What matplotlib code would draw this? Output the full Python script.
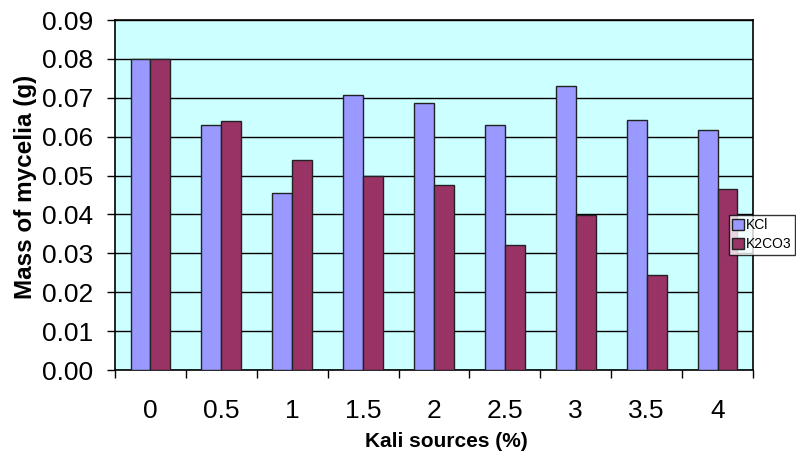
import numpy as np
import matplotlib
matplotlib.use("Agg")
from matplotlib import pyplot as plt
from matplotlib.ticker import FixedLocator

plt.rcParams['font.family'] = ['Liberation Sans', 'DejaVu Sans']

# potassium source concentration (%)
doses = ['0', '0.5', '1', '1.5', '2', '2.5', '3', '3.5', '4']
kcl = [0.080, 0.063, 0.0455, 0.0708, 0.0687, 0.063, 0.073, 0.0643, 0.0617]
k2co3 = [0.080, 0.064, 0.054, 0.050, 0.0476, 0.0321, 0.0398, 0.0244, 0.0465]

fig = plt.figure(figsize=(7.96, 4.57), dpi=100)
ax = fig.add_axes([115 / 796, 1 - 370 / 457, 638 / 796, 350 / 457])
ax.set_facecolor('#CCFFFF')

x = np.arange(len(doses))
w = 0.28
ax.bar(x - w / 2, kcl, w, color='#9999FF', edgecolor='#222222', linewidth=1.0,
       label='KCl', zorder=3)
ax.bar(x + w / 2, k2co3, w, color='#993366', edgecolor='#222222', linewidth=1.0,
       label='K2CO3', zorder=3)

ax.set_xlim(-0.5, len(doses) - 0.5)
ax.set_ylim(0, 0.09)
yt = np.arange(0, 0.091, 0.01)
ax.set_yticks(yt)
ax.set_yticklabels(['%.2f' % v for v in yt])
ax.yaxis.grid(True, color='black', linewidth=1.0, zorder=1)

# labels sit under the groups, tick marks sit between them
ax.set_xticks(x)
ax.set_xticklabels(doses)
ax.xaxis.set_minor_locator(FixedLocator(np.arange(-0.5, len(doses), 1.0)))
ax.tick_params(axis='x', which='major', length=0, pad=21, labelsize=19)
ax.tick_params(axis='x', which='minor', length=6, width=1, direction='out')
ax.tick_params(axis='y', length=6, width=1, direction='out', labelsize=19,
               pad=10)

for s in ax.spines.values():
    s.set_color('black')
    s.set_linewidth(1.2)

ax.set_xlabel('Kali sources (%)', fontsize=15, fontweight='bold', va='top')
ax.xaxis.set_label_coords(0.519, -0.178)
ax.set_ylabel('Mass of mycelia (g)', fontsize=17.5, fontweight='bold',
              va='center')
ax.yaxis.set_label_coords(-0.14, 0.523)

leg = ax.legend(loc='upper left', bbox_to_anchor=(614 / 638, 1 - 195 / 350),
                fontsize=10, frameon=True, fancybox=False, handlelength=0.8,
                handleheight=0.8, handletextpad=0.2, borderpad=0.25,
                labelspacing=0.35, borderaxespad=0)
leg.get_frame().set_edgecolor('black')
leg.get_frame().set_linewidth(1.0)
leg.set_zorder(5)

fig.savefig('out.png', dpi=100)
